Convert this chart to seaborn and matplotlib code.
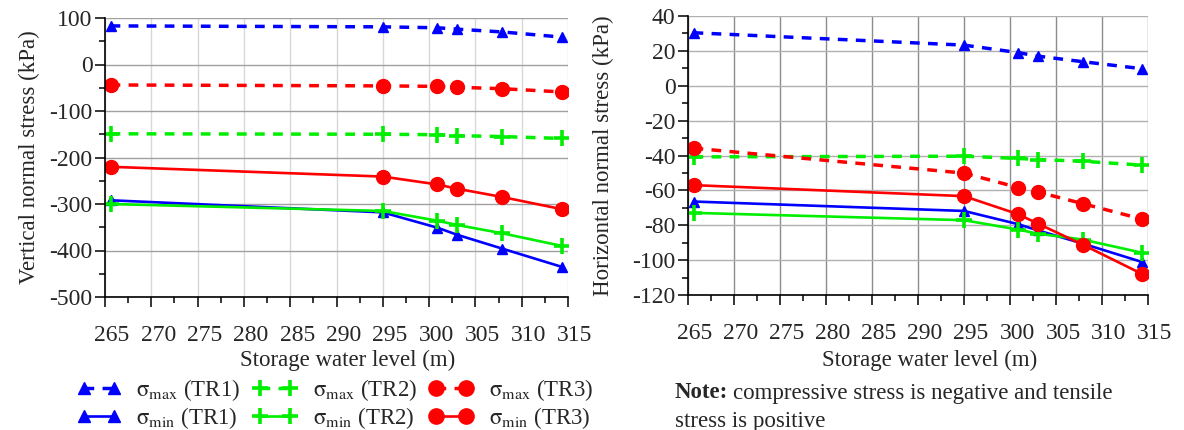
import numpy as np
import pandas as pd
import matplotlib
matplotlib.use("Agg")
import matplotlib.pyplot as plt
import matplotlib.ticker as mticker
import matplotlib.transforms as mtransforms
import seaborn as sns

# ------------------------------
# 数据
# ------------------------------
water_level = [265.6, 295.0, 300.9, 303.0, 307.9, 314.3]

# 竖向正应力 (kPa)
v_max_tr1 = [83, 81, 79, 76, 70, 59]
v_max_tr2 = [-149, -150, -151, -153, -155, -159]
v_max_tr3 = [-44, -46, -47, -49, -52, -59]
v_min_tr1 = [-292, -318, -351, -366, -396, -435]
v_min_tr2 = [-300, -315, -336, -345, -363, -390]
v_min_tr3 = [-220, -241, -258, -267, -285, -311]

# 水平正应力 (kPa)
h_max_tr1 = [30.4, 23.3, 19.0, 17.0, 13.8, 9.8]
h_max_tr2 = [-40.8, -40.4, -41.7, -42.3, -43.3, -45.5]
h_max_tr3 = [-35.8, -50.1, -58.4, -60.9, -67.6, -76.4]
h_min_tr1 = [-66.4, -71.8, -79.4, -82.9, -90.5, -101.0]
h_min_tr2 = [-72.9, -77.1, -82.5, -84.8, -88.2, -95.7]
h_min_tr3 = [-57.0, -63.3, -73.7, -79.0, -91.1, -107.8]

x_ticks = [265, 270, 275, 280, 285, 290, 295, 300, 305, 310, 315]

series_labels = [r"$\mathrm{\sigma}_{\mathrm{max}}$ (TR1)", r"$\mathrm{\sigma}_{\mathrm{min}}$ (TR1)",
                 r"$\mathrm{\sigma}_{\mathrm{max}}$ (TR2)", r"$\mathrm{\sigma}_{\mathrm{min}}$ (TR2)",
                 r"$\mathrm{\sigma}_{\mathrm{max}}$ (TR3)", r"$\mathrm{\sigma}_{\mathrm{min}}$ (TR3)"]
series_colors = ["#0000ff", "#0000ff", "#00ee00", "#00ee00", "#ff0000", "#ff0000"]
series_markers = ["^", "^", "+", "+", "o", "o"]
series_dashed = [True, False, True, False, True, False]

SERIF = ["Liberation Serif", "DejaVu Serif"]

# ------------------------------
# 全局设置
# ------------------------------
sns.set_style("white")
plt.rcParams["font.family"] = SERIF
plt.rcParams["font.serif"] = SERIF
plt.rcParams["mathtext.fontset"] = "stix"
plt.rcParams["axes.unicode_minus"] = False
plt.rcParams["font.size"] = 16

fig = plt.figure(figsize=(11.84, 4.30), dpi=100)
ax1 = fig.add_axes([105 / 1184, 1 - 297 / 430, 463 / 1184, 279 / 430])
ax2 = fig.add_axes([688 / 1184, 1 - 295 / 430, 460 / 1184, 279 / 430])


def draw_panel(ax, series, grid_v, grid_h):
    for vals, lab, col, mk, dashed in zip(series, series_labels, series_colors,
                                          series_markers, series_dashed):
        if mk == "+":
            msize, mew = 11, 2.6
        elif mk == "o":
            msize, mew = 10, 1
        else:
            msize, mew = 7.5, 1
        ls = (0, (2.8, 2.4)) if dashed else "-"
        lw = 2.5 if dashed else 1.9
        sns.lineplot(x=water_level, y=vals, ax=ax, color=col, marker=mk,
                     markersize=msize, markeredgewidth=mew, markeredgecolor=col,
                     linestyle=ls, linewidth=lw, label=lab, legend=False)
    ax.set_xlim(265, 315)
    ax.set_xticks(x_ticks)
    ax.xaxis.set_minor_locator(mticker.MultipleLocator(2.5))
    ax.grid(True, which="major", axis="x", color=grid_v, linewidth=1)
    ax.grid(True, which="major", axis="y", color=grid_h, linewidth=1)
    ax.set_axisbelow(True)
    for s in ["top", "right"]:
        ax.spines[s].set_visible(False)
    for s in ["left", "bottom"]:
        ax.spines[s].set_color("black")
        ax.spines[s].set_linewidth(1.2)
    ax.tick_params(which="major", direction="out", length=7, width=1.1,
                   color="black", labelsize=17, labelfontfamily="Liberation Serif")
    ax.tick_params(which="minor", direction="out", length=4, width=1.1,
                   color="black")
    ax.tick_params(axis="x", which="major", pad=13)
    ax.tick_params(axis="y", which="major", pad=2)
    ax.tick_params(left=True, bottom=True, which="both")
    # 原图刻度标签整体略向右偏
    offset = mtransforms.ScaledTranslation(7 / 100, 0, fig.dpi_scale_trans)
    for lbl in ax.xaxis.get_majorticklabels():
        lbl.set_transform(lbl.get_transform() + offset)


# ---- 左图：竖向正应力 ----
draw_panel(ax1, [v_max_tr1, v_min_tr1, v_max_tr2, v_min_tr2, v_max_tr3, v_min_tr3],
           "#d8d8d8", "#a0a0a0")
ax1.set_ylim(-500, 100)
ax1.set_yticks([100, 0, -100, -200, -300, -400, -500])
ax1.yaxis.set_minor_locator(mticker.MultipleLocator(50))
ax1.set_ylabel("Vertical normal stress (kPa)", fontsize=16.5)
ax1.set_xlabel("Storage water level (m)", fontsize=16.5)
ax1.yaxis.set_label_coords(-0.14, 0.5)
ax1.xaxis.set_label_coords(0.525, -0.19)

# ---- 右图：水平正应力 ----
draw_panel(ax2, [h_max_tr1, h_min_tr1, h_max_tr2, h_min_tr2, h_max_tr3, h_min_tr3],
           "#8c8c8c", "#b0b0b0")
ax2.set_ylim(-120, 40)
ax2.set_yticks([40, 20, 0, -20, -40, -60, -80, -100, -120])
ax2.yaxis.set_minor_locator(mticker.MultipleLocator(10))
ax2.set_ylabel("Horizontal normal stress (kPa)", fontsize=16.5)
ax2.set_xlabel("Storage water level (m)", fontsize=16.5)
ax2.yaxis.set_label_coords(-0.16, 0.5)
ax2.xaxis.set_label_coords(0.525, -0.197)

# ---- 图例（左图下方） ----
handles, labels = ax1.get_legend_handles_labels()
fig.legend(handles, labels, loc="center", bbox_to_anchor=(335 / 1184, 1 - 404 / 430),
           ncol=3, numpoints=2, frameon=False, fontsize=16.5, handlelength=1.9,
           handletextpad=0.7, columnspacing=0.55, labelspacing=0.05,
           borderpad=0.1, markerscale=1.1)

# ---- 注释 ----
note_y = 1 - 393 / 430
note_bold = fig.text(675 / 1184, note_y, "Note:", fontsize=16.5, fontweight="bold",
                     ha="left", va="center")
fig.canvas.draw()
bb = note_bold.get_window_extent(renderer=fig.canvas.get_renderer())
fig.text((bb.x1 + 5) / 1184, note_y, "compressive stress is negative and tensile",
         fontsize=16.5, ha="left", va="center")
fig.text(675 / 1184, 1 - 421 / 430, "stress is positive",
         fontsize=16.5, ha="left", va="center")

fig.savefig("out.png", dpi=100)
